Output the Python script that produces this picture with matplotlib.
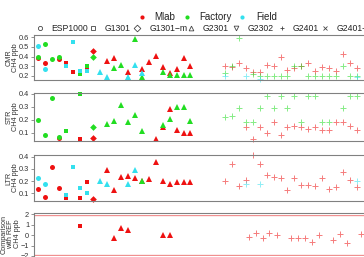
import numpy as np
import matplotlib
matplotlib.use("Agg")
import matplotlib.pyplot as plt

plt.rcParams['font.family'] = ['Liberation Sans', 'DejaVu Sans']

# colours for the sites, markers for the instruments
site_names = ['Mlab', 'Factory', 'Field']
site_colors = {'M': '#ee1111', 'F': '#22dd22', 'C': '#33e0ee'}
inst_names = ['ESP1000', 'G1301', 'G1301\u2212m', 'G2301', 'G2302', 'G2401', 'G2401-m']
inst_markers = {'ESP1000': 'o', 'G1301': 's', 'G1301-m': 'D', 'G2301': '^',
                'G2302': 'v', 'G2401': '+', 'G2401-m': 'x'}

# instrument for each run index
run_inst = (['ESP1000'] * 4 + ['G1301'] * 4 + ['G1301-m'] + ['G2301'] * 14
            + [None] * 4 + ['G2401'] * 20)

# --- CMR ---
cmr_x = [0, 0, 0, 1, 1, 1, 2, 3, 3, 4, 4, 5, 5, 6, 6, 7, 7, 7, 8, 8,
         9, 10, 10, 11, 11, 12, 13, 13, 13, 14, 14, 15, 15, 15, 16, 17, 18, 18,
         19, 19, 20, 20, 21, 21, 22, 22,
         27, 27, 27, 28, 28, 29, 29, 30, 30, 31, 31, 32, 32, 32, 33, 33, 34, 34,
         35, 35, 36, 36, 37, 37, 38, 38, 39, 39, 40, 40, 41, 41, 42, 42, 43, 43,
         44, 44, 45, 45, 46, 46, 46]
cmr_site = ['M', 'F', 'C', 'M', 'F', 'C', 'F', 'M', 'F', 'M', 'C', 'M', 'C', 'F', 'C', 'M', 'F', 'C', 'M', 'F',
            'C', 'M', 'C', 'M', 'F', 'F', 'M', 'F', 'C', 'F', 'C', 'M', 'F', 'C', 'M', 'M', 'M', 'F',
            'M', 'F', 'M', 'F', 'M', 'F', 'M', 'F',
            'M', 'F', 'C', 'M', 'F', 'M', 'F', 'M', 'C', 'M', 'F', 'M', 'F', 'C', 'M', 'F', 'M', 'F',
            'M', 'F', 'M', 'F', 'M', 'F', 'M', 'F', 'M', 'F', 'M', 'F', 'M', 'F', 'M', 'F', 'M', 'F',
            'M', 'F', 'M', 'F', 'M', 'F', 'C']
cmr_y = [0.38, 0.40, 0.51, 0.33, 0.53, 0.27, 0.37, 0.37, 0.40, 0.33, 0.30, 0.235, 0.55, 0.22, 0.245, 0.26, 0.30, 0.245, 0.46, 0.40,
         0.24, 0.356, 0.19, 0.38, 0.277, 0.31, 0.24, 0.18, 0.19, 0.58, 0.31, 0.267, 0.19, 0.225, 0.34, 0.41, 0.295, 0.24,
         0.23, 0.21, 0.267, 0.21, 0.38, 0.21, 0.305, 0.21,
         0.30, 0.23, 0.195, 0.29, 0.30, 0.33, 0.59, 0.28, 0.195, 0.24, 0.215, 0.235, 0.195, 0.17, 0.31, 0.195, 0.30, 0.195,
         0.40, 0.195, 0.26, 0.195, 0.277, 0.305, 0.305, 0.305, 0.335, 0.195, 0.25, 0.195, 0.294, 0.195, 0.277, 0.195, 0.25, 0.195,
         0.426, 0.305, 0.33, 0.195, 0.277, 0.195, 0.183]

# --- STR ---
str_x = [0, 1, 2, 3, 3, 4, 6, 6, 8, 8, 10, 11, 12, 13, 14, 15, 17, 18, 18, 19, 19, 20, 20, 21, 21, 22, 22,
         27, 28, 29, 30, 30, 31, 31, 32, 32, 33, 33, 34, 34, 35, 35, 36, 36, 37, 37, 38, 38,
         39, 39, 40, 40, 41, 41, 42, 42, 43, 44, 44, 45, 45, 46, 46]
str_site = ['F', 'F', 'F', 'M', 'F', 'F', 'M', 'F', 'M', 'F', 'F', 'F', 'F', 'F', 'F', 'F', 'M', 'M', 'F', 'M', 'F', 'M', 'F', 'M', 'F', 'M', 'F',
            'F', 'F', 'F', 'M', 'F', 'M', 'F', 'M', 'F', 'M', 'F', 'M', 'F', 'M', 'F', 'M', 'F', 'M', 'F', 'M', 'F',
            'M', 'F', 'M', 'F', 'M', 'F', 'M', 'F', 'M', 'M', 'F', 'M', 'F', 'M', 'F']
str_y = [0.197, 0.085, 0.37, 0.06, 0.07, 0.115, 0.055, 0.395, 0.06, 0.142, 0.167, 0.193, 0.31, 0.182, 0.234, 0.115, 0.053,
         0.144, 0.16, 0.284, 0.205, 0.124, 0.297, 0.098, 0.297, 0.098, 0.193,
         0.224, 0.229, 0.289, 0.142, 0.185, 0.057, 0.185, 0.142, 0.289, 0.10, 0.385, 0.185, 0.289, 0.082, 0.385,
         0.142, 0.289, 0.152, 0.385, 0.142, 0.185,
         0.129, 0.385, 0.142, 0.385, 0.121, 0.185, 0.121, 0.185, 0.18, 0.185, 0.289, 0.152, 0.385, 0.121, 0.385]

# --- LTR ---
ltr_x = [0, 0, 1, 1, 2, 3, 4, 4, 5, 6, 6, 7, 7, 8, 9, 10, 10, 11, 12, 13, 13, 14, 14, 15, 15, 16, 17, 18, 19, 20, 21, 22,
         27, 28, 29, 30, 30, 31, 32, 32, 33, 34, 35, 36, 37, 38, 39, 40, 41, 42, 43, 44, 45, 46, 46]
ltr_site = ['M', 'C', 'M', 'C', 'M', 'M', 'M', 'C', 'C', 'M', 'C', 'M', 'C', 'M', 'C', 'M', 'C', 'M', 'M', 'M', 'C', 'M', 'C', 'F', 'M',
            'M', 'M', 'M', 'M', 'M', 'M', 'M',
            'M', 'M', 'M', 'M', 'C', 'M', 'M', 'C', 'M', 'M', 'M', 'M', 'M', 'M', 'M', 'M', 'M', 'M', 'M', 'M', 'M', 'M', 'C']
ltr_y = [0.133, 0.223, 0.072, 0.18, 0.318, 0.146, 0.06, 0.086, 0.318, 0.06, 0.14, 0.195, 0.105, 0.05, 0.205, 0.29, 0.178,
         0.125, 0.23, 0.245, 0.176, 0.223, 0.29, 0.2, 0.203, 0.215, 0.36, 0.203, 0.174, 0.195, 0.19, 0.19,
         0.203, 0.34, 0.16, 0.21, 0.176, 0.41, 0.34, 0.176, 0.247, 0.236, 0.223, 0.127, 0.223, 0.168, 0.168, 0.162,
         0.223, 0.135, 0.149, 0.272, 0.21, 0.149, 0.2]

# --- comparison with REF (Mlab only) ---
ref_x = [6, 11, 12, 13, 18, 19]
ref_y = [0.9, -0.3, 0.69, 0.53, 0.0, 0.0]
ref_plus_x = [30.4, 31.5, 32.4, 33.4, 34.5, 36.5, 37.5, 38.5, 39.5, 40.5, 42.6, 43.6, 44.6, 46.6]
ref_plus_y = [-0.2, 0.24, -0.3, 0.24, 0.0, -0.3, -0.3, -0.3, -0.62, 0.0, -0.45, 0.14, -0.8, 0.07]

W, H = 364, 257
fig = plt.figure(figsize=(W / 100, H / 100), dpi=100)


def px_axes(left, top, right, bottom):
    return fig.add_axes([left / W, 1 - bottom / H, (right - left) / W, (bottom - top) / H])


x0, step = 38, 6.93
xl = ((34 - x0) / step, (420 - x0) / step)


def style(ax, ylim, yticks, labels):
    ax.set_xlim(*xl)
    ax.set_ylim(*ylim)
    ax.set_yticks(yticks)
    ax.set_yticklabels(labels)
    ax.set_xticks([])
    for s in ax.spines.values():
        s.set_color('#808080')
        s.set_linewidth(0.8)
    ax.tick_params(axis='y', length=2.5, width=0.6, color='#808080', labelsize=5.3, pad=1, labelcolor='#333333')


def draw(ax, xs, sites, ys):
    for site in ['M', 'F', 'C']:
        for x, s, y in zip(xs, sites, ys):
            if s != site:
                continue
            inst = run_inst[int(x)] or 'G2401'
            m = inst_markers[inst]
            if m == '+':
                ax.plot(x, y, m, color=site_colors[s], alpha=0.55, ms=5, mew=0.7, clip_on=False)
            else:
                size = {'o': 3.6, 's': 3.4, 'D': 3.4, '^': 4.2}[m]
                ax.plot(x, y, m, color=site_colors[s], ms=size, mew=0, clip_on=False)


ax1 = px_axes(34, 35, 420, 80)
style(ax1, (0.155, 0.625), [0.2, 0.3, 0.4, 0.5, 0.6], ['0.2', '0.3', '0.4', '0.5', '0.6'])
draw(ax1, cmr_x, cmr_site, cmr_y)

ax2 = px_axes(34, 93, 420, 141)
style(ax2, (0.038, 0.405), [0.1, 0.2, 0.3, 0.4], ['0.1', '0.2', '0.3', '0.4'])
draw(ax2, str_x, str_site, str_y)

ax3 = px_axes(34, 155, 420, 201)
style(ax3, (0.037, 0.414), [0.1, 0.2, 0.3, 0.4], ['0.1', '0.2', '0.3', '0.4'])
draw(ax3, ltr_x, ltr_site, ltr_y)

ax4 = px_axes(34, 212.5, 420, 259)
style(ax4, (-2.3, 2.18), [-2, -1, 0, 1, 2], ['\u22122', '\u22121', '0', '1', '2'])
for lev in (-2, 2):
    ax4.axhline(lev, color='#f08a8a', lw=2.4, zorder=1)
    ax4.axhline(lev, color='white', lw=0.8, zorder=1)
draw(ax4, ref_x, ['M'] * len(ref_x), ref_y)
for x, y in zip(ref_plus_x, ref_plus_y):
    ax4.plot(x, y, '+', color=site_colors['M'], alpha=0.55, ms=5, mew=0.7)

# y axis titles
ylab = [('CMR\nCH4 ppb', 57.5, 12.5), ('STR\nCH4 ppb', 117, 12.5), ('LTR\nCH4 ppb', 178, 12.5),
        ('Comparison\nwith REF\nCH4 ppb', 234, 10.5)]
for txt, yc, xc in ylab:
    fig.text(xc / W, 1 - yc / H, txt, rotation=90, ha='center', va='center',
             fontsize=5.2, linespacing=0.95, color='#333333')

# legend rows
leg = fig.add_axes([0, 0, 1, 1])
leg.set_xlim(0, W)
leg.set_ylim(H, 0)
leg.axis('off')
row1 = [(141.7, 154, 'Mlab', 'M'), (186.7, 199.3, 'Factory', 'F'), (242.3, 256, 'Field', 'C')]
for mx, tx, name, s in row1:
    leg.plot(mx, 17.3, 'o', color=site_colors[s], ms=3, mew=0)
    leg.text(tx, 17.3, name, fontsize=7, va='center', ha='left', color='#222222')
row2 = [(40, 51.7, 'o'), (93.3, 105, 's'), (136.7, 149.3, 'D'), (190.7, 202.7, '^'),
        (236, 247.7, 'v'), (281.7, 292.7, '+'), (325, 336.7, 'x')]
for (mx, tx, m), name in zip(row2, inst_names):
    leg.plot(mx, 28.3, m, mfc='none', mec='#444444', ms=3.0 if m in 'os' else 3.4, mew=0.6)
    leg.text(tx, 28.3, name, fontsize=6.2, va='center', ha='left', color='#222222')

fig.savefig('out.png', dpi=100)
